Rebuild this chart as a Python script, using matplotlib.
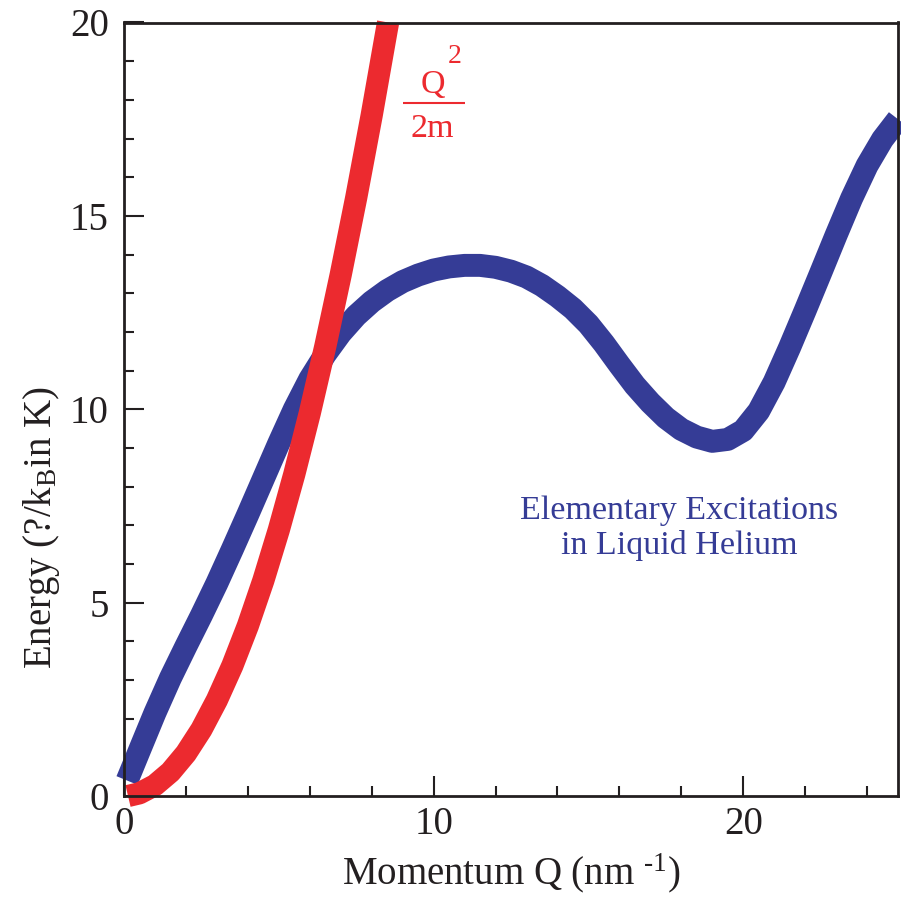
import matplotlib
matplotlib.use("Agg")
import matplotlib.pyplot as plt
from matplotlib.ticker import MultipleLocator

plt.rcParams['font.family'] = ['Liberation Serif', 'DejaVu Serif']
plt.rcParams['mathtext.fontset'] = 'custom'
plt.rcParams['mathtext.rm'] = 'Liberation Serif'
plt.rcParams['mathtext.it'] = 'Liberation Serif:italic'
plt.rcParams['mathtext.bf'] = 'Liberation Serif:bold'

# Phonon-roton dispersion of superfluid helium (energy in K vs momentum in nm^-1)
excitation_q = [0.1, 0.5, 1.0, 1.5, 2.0, 2.5, 3.0, 3.5, 4.0, 4.5, 5.0, 5.5, 6.0,
                6.5, 7.0, 7.5, 8.0, 8.5, 9.0, 9.5, 10.0, 10.5, 11.0, 11.5, 12.0,
                12.5, 13.0, 13.5, 14.0, 14.5, 15.0, 15.5, 16.0, 16.5, 17.0, 17.5,
                18.0, 18.5, 19.0, 19.5, 20.0, 20.5, 21.0, 21.5, 22.0, 22.5, 23.0,
                23.5, 24.0, 24.5, 25.0]
excitation_e = [0.40, 1.18, 2.15, 3.05, 3.87, 4.67, 5.50, 6.38, 7.28, 8.20, 9.12,
                10.00, 10.78, 11.42, 11.97, 12.42, 12.78, 13.07, 13.30, 13.47,
                13.60, 13.68, 13.72, 13.72, 13.67, 13.57, 13.42, 13.20, 12.92,
                12.60, 12.20, 11.70, 11.15, 10.62, 10.17, 9.78, 9.48, 9.28, 9.17,
                9.22, 9.45, 9.95, 10.70, 11.60, 12.55, 13.52, 14.50, 15.45, 16.30,
                16.98, 17.50]

# Free-particle curve Q^2/2m
free_q = [0.13, 0.5, 1.0, 1.5, 2.0, 2.5, 3.0, 3.5, 4.0, 4.5, 5.0, 5.5, 6.0, 6.5,
          7.0, 7.5, 8.0, 8.5, 8.53]
free_e = [0.00, 0.07, 0.28, 0.62, 1.10, 1.72, 2.48, 3.37, 4.40, 5.57, 6.88,
          8.32, 9.90, 11.62, 13.48, 15.47, 17.60, 19.87, 20.00]

x_ticks = [0, 10, 20]
y_ticks = [0, 5, 10, 15, 20]

BLUE = '#353C96'
RED = '#EC2A2F'
INK = '#231F20'

W, H = 901, 900
fig = plt.figure(figsize=(W / 100, H / 100), dpi=100)
ax = fig.add_axes([124 / W, 1 - 796 / H, (898 - 124) / W, (796 - 22.5) / H])

ax.plot(excitation_q, excitation_e, color=BLUE, lw=16.5,
        solid_capstyle='butt', solid_joinstyle='round', clip_on=False, zorder=2)
ax.plot(free_q, free_e, color=RED, lw=16,
        solid_capstyle='butt', solid_joinstyle='round', clip_on=False, zorder=2.1)

ax.set_xlim(0, 25)
ax.set_ylim(0, 20)

ax.set_xticks(x_ticks)
ax.set_yticks(y_ticks)
ax.xaxis.set_minor_locator(MultipleLocator(2))
ax.yaxis.set_minor_locator(MultipleLocator(1))
ax.tick_params(which='both', direction='in', color=INK, width=1.5,
               top=False, right=False, labelsize=28, labelcolor=INK)
ax.tick_params(which='major', length=14.4)
ax.tick_params(which='minor', length=7.2)
ax.tick_params(axis='x', which='major', pad=7)
ax.tick_params(axis='y', which='major', pad=11)

for sp in ax.spines.values():
    sp.set_linewidth(2)
    sp.set_color(INK)

ax.set_xlabel(r"Momentum Q (nm $^{\text{-}1}$)", fontsize=28, color=INK, labelpad=6)
fig.text(42 / W, 1 - 527 / H, r"Energy (?/k$_\mathrm{B}$in K)", rotation=90,
         fontsize=28, color=INK, ha='center', va='center')

# Q^2 / 2m label for the free-particle curve
ax.text(9.97, 18.17, "Q", color=RED, fontsize=24.5, ha='center', va='baseline')
ax.text(10.68, 18.94, "2", color=RED, fontsize=20, ha='center', va='baseline')
ax.plot([9.0, 11.0], [17.91, 17.91], color=RED, lw=1.5, solid_capstyle='butt')
ax.text(9.97, 17.03, "2m", color=RED, fontsize=24.5, ha='center', va='baseline')

ax.text(17.94, 6.93, "Elementary Excitations\nin Liquid Helium", color=BLUE,
        fontsize=24.5, ha='center', va='center', multialignment='center',
        linespacing=1.15)

fig.savefig("out.png", dpi=100)
